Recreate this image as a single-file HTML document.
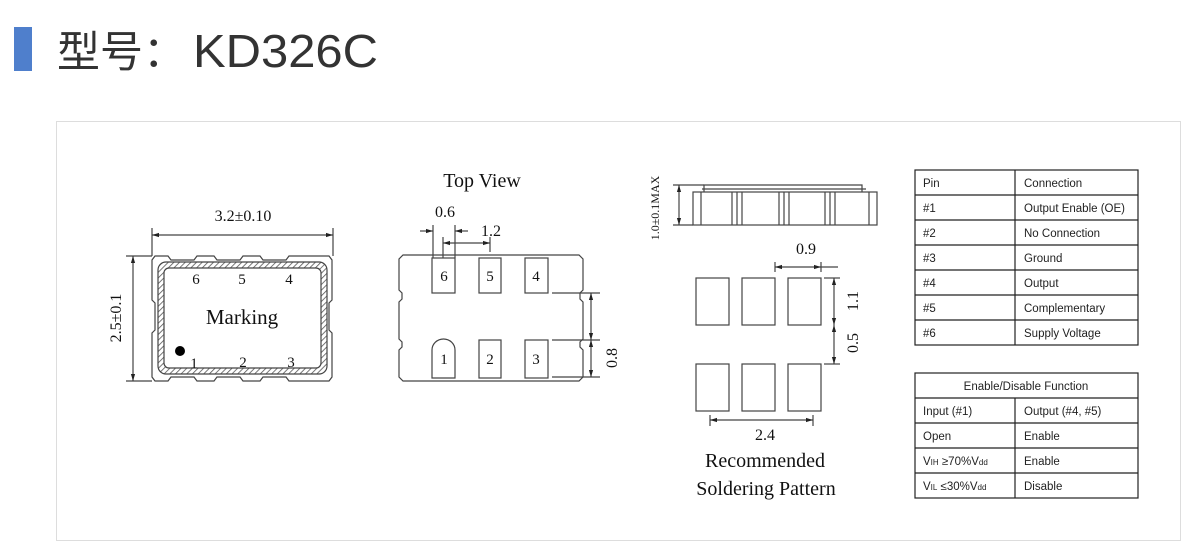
<!DOCTYPE html>
<html><head><meta charset="utf-8"><style>
html,body{margin:0;padding:0;background:#fff;width:1200px;height:557px;overflow:hidden}
svg{display:block}
.t{font-family:"Liberation Serif",serif;fill:#111}
.s{font-family:"Liberation Sans",sans-serif;fill:#222;font-size:11.5px}
</style></head><body>
<svg width="1200" height="557" viewBox="0 0 1200 557" xmlns="http://www.w3.org/2000/svg">
<defs>
<pattern id="h" width="4" height="4" patternUnits="userSpaceOnUse" patternTransform="rotate(45)">
<rect width="4" height="4" fill="#fff"/><line x1="0" y1="0" x2="0" y2="4" stroke="#555" stroke-width="1.6"/></pattern>
<marker id="a" viewBox="0 0 10 10" refX="10" refY="5" markerWidth="6" markerHeight="6" orient="auto-start-reverse"><path d="M0,2 L10,5 L0,8z" fill="#222"/></marker>
</defs>
<rect x="14" y="27" width="18" height="44" fill="#4f7fcc"/>
<text x="57" y="67" font-family="'Liberation Sans','Noto Sans CJK SC',sans-serif" font-size="43" fill="#333">型号：</text>
<text x="193" y="67" font-family="'Liberation Sans',sans-serif" font-size="46" fill="#333" textLength="185" lengthAdjust="spacingAndGlyphs">KD326C</text>
<rect x="56.5" y="121.5" width="1124" height="419" fill="#fff" stroke="#ddd"/>

<g stroke="#444" fill="none" stroke-width="1.2">
<path d="M155,256 H168 L171,260 H194 L197,256 H214 L217,260 H240 L243,256 H260 L263,260 H286 L289,256 H329 L332,260 V300 L329,303 V330 L332,333 V377 L329,381 H289 L286,377 H263 L260,381 H243 L240,377 H217 L214,381 H197 L194,377 H171 L168,381 H155 L152,377 V333 L155,330 V303 L152,300 V260Z"/>
<rect x="158" y="262" width="169" height="112" rx="8" fill="url(#h)"/>
<rect x="164" y="268" width="157" height="100" rx="5" fill="#fff"/>
<line x1="152" y1="228" x2="152" y2="256"/><line x1="333" y1="228" x2="333" y2="256"/>
<line x1="152" y1="235" x2="333" y2="235" marker-start="url(#a)" marker-end="url(#a)"/>
<line x1="126" y1="256" x2="152" y2="256"/><line x1="126" y1="381" x2="152" y2="381"/>
<line x1="133" y1="256" x2="133" y2="381" marker-start="url(#a)" marker-end="url(#a)"/>
<path d="M403,255 H579 L583,259 V290 L580,293 V299 L583,302 V339 L580,342 V347 L583,350 V377 L579,381 H403 L399,377 V350 L402,347 V342 L399,339 V302 L402,299 V293 L399,290 V259Z"/>
<rect x="432" y="258" width="23" height="35"/><rect x="479" y="258" width="22" height="35"/><rect x="525" y="258" width="23" height="35"/>
<path d="M432,378 V350 A11.5,11 0 0 1 455,350 V378Z"/>
<rect x="479" y="340" width="22" height="38"/><rect x="525" y="340" width="23" height="38"/>
<line x1="433" y1="225" x2="433" y2="258"/><line x1="455" y1="225" x2="455" y2="258"/>
<line x1="420" y1="231" x2="433" y2="231" marker-end="url(#a)"/><line x1="468" y1="231" x2="455" y2="231" marker-end="url(#a)"/>
<line x1="443" y1="237" x2="443" y2="258"/><line x1="490" y1="237" x2="490" y2="252"/>
<line x1="443" y1="243" x2="490" y2="243" marker-start="url(#a)" marker-end="url(#a)"/>
<line x1="552" y1="293" x2="600" y2="293"/><line x1="552" y1="340" x2="600" y2="340"/><line x1="552" y1="377" x2="600" y2="377"/>
<line x1="591" y1="293" x2="591" y2="340" marker-start="url(#a)" marker-end="url(#a)"/>
<line x1="591" y1="340" x2="591" y2="377" marker-start="url(#a)" marker-end="url(#a)"/>
<rect x="693" y="192" width="184" height="33"/>
<path d="M704,192 V185 H862 V192"/><line x1="702" y1="189" x2="866" y2="189"/>
<line x1="701" y1="192" x2="701" y2="225"/><line x1="869" y1="192" x2="869" y2="225"/>
<line x1="732" y1="192" x2="732" y2="225"/><line x1="737" y1="192" x2="737" y2="225"/><line x1="742" y1="192" x2="742" y2="225"/>
<line x1="779" y1="192" x2="779" y2="225"/><line x1="784" y1="192" x2="784" y2="225"/><line x1="789" y1="192" x2="789" y2="225"/>
<line x1="825" y1="192" x2="825" y2="225"/><line x1="830" y1="192" x2="830" y2="225"/><line x1="835" y1="192" x2="835" y2="225"/>
<line x1="673" y1="185" x2="704" y2="185"/><line x1="673" y1="225" x2="693" y2="225"/>
<line x1="679" y1="185" x2="679" y2="225" marker-start="url(#a)" marker-end="url(#a)"/>
<rect x="696" y="278" width="33" height="47"/><rect x="742" y="278" width="33" height="47"/><rect x="788" y="278" width="33" height="47"/>
<rect x="696" y="364" width="33" height="47"/><rect x="742" y="364" width="33" height="47"/><rect x="788" y="364" width="33" height="47"/>
<line x1="775" y1="262" x2="775" y2="272"/><line x1="821" y1="262" x2="821" y2="272"/>
<line x1="775" y1="267" x2="821" y2="267" marker-start="url(#a)" marker-end="url(#a)"/>
<line x1="821" y1="267" x2="838" y2="267"/>
<line x1="824" y1="278" x2="840" y2="278"/><line x1="824" y1="364" x2="840" y2="364"/>
<line x1="834" y1="278" x2="834" y2="325" marker-start="url(#a)" marker-end="url(#a)"/>
<line x1="834" y1="325" x2="834" y2="364" marker-start="url(#a)" marker-end="url(#a)"/>
<line x1="710" y1="415" x2="710" y2="426"/><line x1="813" y1="415" x2="813" y2="426"/>
<line x1="710" y1="420" x2="813" y2="420" marker-start="url(#a)" marker-end="url(#a)"/>
</g>
<circle cx="180" cy="351" r="5" fill="#000"/>
<g class="t" font-size="15" text-anchor="middle">
<text x="243" y="221" font-size="16">3.2±0.10</text>
<text transform="translate(121,318) rotate(-90)" font-size="16">2.5±0.1</text>
<text x="196" y="284">6</text><text x="242" y="284">5</text><text x="289" y="284">4</text>
<text x="194" y="368">1</text><text x="243" y="367">2</text><text x="291" y="367">3</text>
<text x="242" y="324" font-size="21">Marking</text>
<text x="482" y="187" font-size="20">Top View</text>
<text x="445" y="217" font-size="16">0.6</text><text x="491" y="236" font-size="16">1.2</text>
<text x="444" y="281">6</text><text x="490" y="281">5</text><text x="536" y="281">4</text>
<text x="444" y="364">1</text><text x="490" y="364">2</text><text x="536" y="364">3</text>
<text transform="translate(617,358) rotate(-90)" font-size="16">0.8</text>
<text transform="translate(659,208) rotate(-90)" font-size="12">1.0±0.1MAX</text>
<text x="806" y="254" font-size="16">0.9</text>
<text transform="translate(858,301) rotate(-90)" font-size="16">1.1</text>
<text transform="translate(858,343) rotate(-90)" font-size="16">0.5</text>
<text x="765" y="440" font-size="16">2.4</text>
<text x="765" y="467" font-size="20">Recommended</text>
<text x="766" y="495" font-size="20">Soldering Pattern</text>
</g>
<g stroke="#222" stroke-width="1.2" fill="none">
<rect x="915" y="170" width="223" height="175"/>
<line x1="1015" y1="170" x2="1015" y2="345"/>
<line x1="915" y1="195" x2="1138" y2="195"/><line x1="915" y1="220" x2="1138" y2="220"/><line x1="915" y1="245" x2="1138" y2="245"/>
<line x1="915" y1="270" x2="1138" y2="270"/><line x1="915" y1="295" x2="1138" y2="295"/><line x1="915" y1="320" x2="1138" y2="320"/>
<rect x="915" y="373" width="223" height="125"/>
<line x1="1015" y1="398" x2="1015" y2="498"/>
<line x1="915" y1="398" x2="1138" y2="398"/><line x1="915" y1="423" x2="1138" y2="423"/><line x1="915" y1="448" x2="1138" y2="448"/><line x1="915" y1="473" x2="1138" y2="473"/>
</g>
<g class="s">
<text x="923" y="187">Pin</text><text x="1024" y="187">Connection</text>
<text x="923" y="212">#1</text><text x="1024" y="212">Output Enable (OE)</text>
<text x="923" y="237">#2</text><text x="1024" y="237">No Connection</text>
<text x="923" y="262">#3</text><text x="1024" y="262">Ground</text>
<text x="923" y="287">#4</text><text x="1024" y="287">Output</text>
<text x="923" y="312">#5</text><text x="1024" y="312">Complementary</text>
<text x="923" y="337">#6</text><text x="1024" y="337">Supply Voltage</text>
<text x="1026" y="390" text-anchor="middle">Enable/Disable Function</text>
<text x="923" y="415">Input (#1)</text><text x="1024" y="415">Output (#4, #5)</text>
<text x="923" y="440">Open</text><text x="1024" y="440">Enable</text>
<text x="923" y="465">V<tspan font-size="8">IH</tspan> ≥70%V<tspan font-size="8">dd</tspan></text><text x="1024" y="465">Enable</text>
<text x="923" y="490">V<tspan font-size="8">IL</tspan> ≤30%V<tspan font-size="8">dd</tspan></text><text x="1024" y="490">Disable</text>
</g>
</svg>
</body></html>
